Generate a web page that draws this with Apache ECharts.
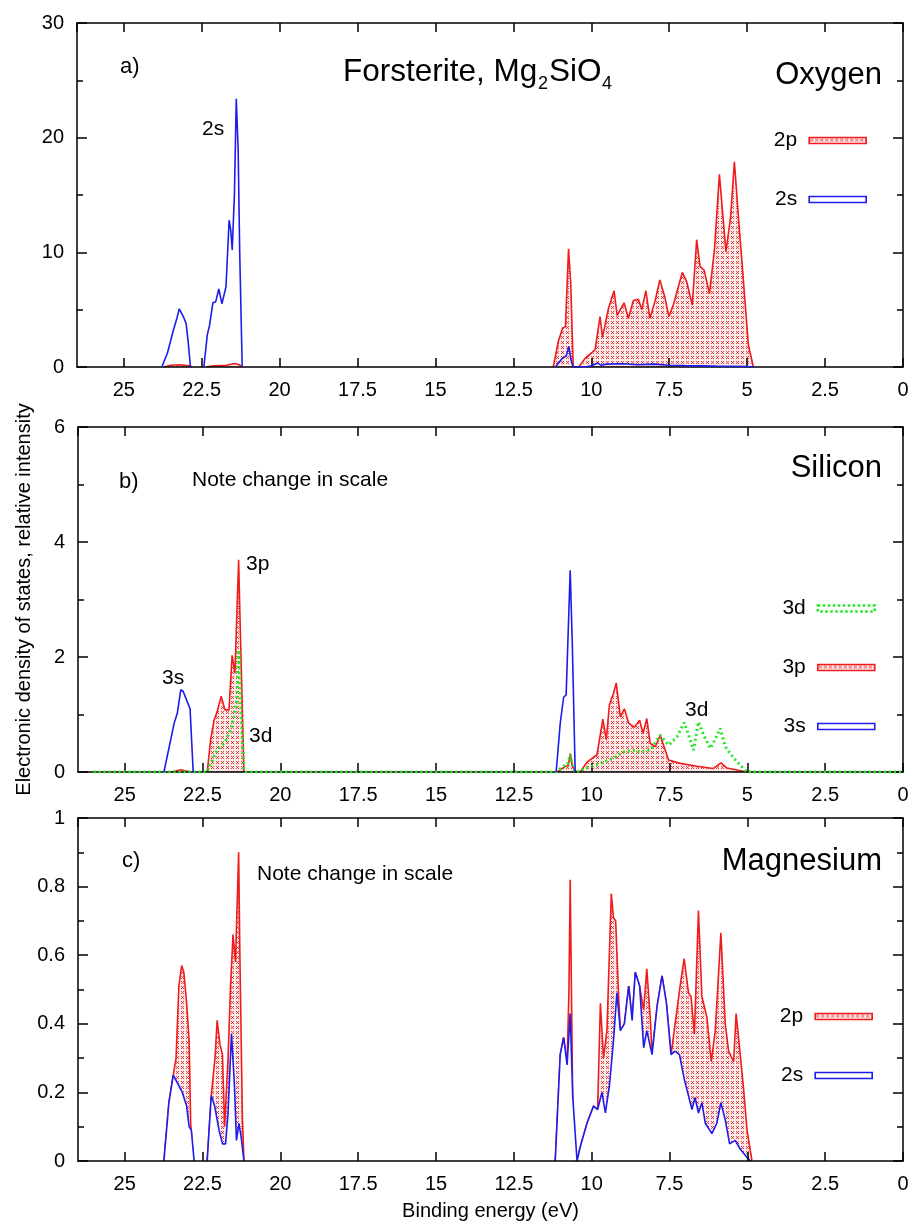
<!DOCTYPE html>
<html>
<head>
<meta charset="utf-8">
<script src="https://cdn.jsdelivr.net/npm/echarts@6/dist/echarts.min.js"></script>
<style>
html,body{margin:0;padding:0;background:#fff}
#chart{width:912px;height:1222px}
</style>
</head>
<body>
<div id="chart"></div>
<script>
var FONT = '"Liberation Sans", Arial, Helvetica, sans-serif';
var RED = '#ee1c1c', BLUE = '#1c1cee', GREEN = '#22e622';

// binding energy (eV), intensity ; [x,'-'] breaks the curve
// a) Oxygen
var o2s = [[23.78,0],[23.6,1.2],[23.42,3.1],[23.3,4.2],[23.22,5.06],[23.09,4.4],[23.0,3.8],[22.93,2.1],[22.86,0],[22.6,'-'],
  [22.43,0],[22.32,2.8],[22.25,3.6],[22.14,5.6],[22.05,5.7],[21.95,6.8],[21.85,5.5],[21.72,7.0],[21.62,12.8],[21.57,12.0],
  [21.52,10.2],[21.45,15],[21.39,23.4],[21.33,19],[21.28,10],[21.2,0],[15,'-'],
  [11.15,0],[10.95,0.7],[10.8,1.0],[10.72,1.8],[10.65,0.6],[10.58,0],[10.2,0],[10.0,0.1],[9.78,0.35],[9.7,0.15],
  [9.5,0.25],[9.0,0.28],[8.5,0.2],[8.0,0.25],[7.5,0.15],[7.0,0.12],[6.0,0.08],[5.0,0.05],[4.8,0]];
var o2p = [[23.7,0],[23.5,0.15],[23.2,0.2],[22.9,0.1],[22.8,0],[22.6,'-'],
  [22.35,0],[22.1,0.1],[21.7,0.15],[21.45,0.3],[21.3,0.2],[21.2,0],[15,'-'],
  [11.22,0],[11.06,2.2],[10.92,3.4],[10.83,3.5],[10.73,10.3],[10.66,7.3],[10.58,0],[10.4,0],[10.2,0.75],[9.88,1.5],
  [9.72,4.4],[9.64,2.6],[9.45,5.1],[9.27,6.65],[9.17,4.5],[8.95,5.6],[8.81,4.25],[8.65,5.8],[8.49,5.9],[8.38,5.0],
  [8.25,6.65],[8.12,4.25],[7.96,5.7],[7.8,7.6],[7.64,6.1],[7.51,4.4],[7.37,5.4],[7.08,8.25],[6.94,7.45],[6.88,7.5],
  [6.76,5.4],[6.62,11.1],[6.51,8.75],[6.38,8.45],[6.21,6.4],[6.05,10.2],[5.89,16.8],[5.68,10.05],[5.53,13.1],
  [5.41,17.9],[5.25,12.0],[5.17,9.3],[4.96,1.9],[4.8,0]];

// b) Silicon
var si3s = [[23.74,0],[23.41,0.85],[23.31,1.02],[23.2,1.43],[23.12,1.4],[22.99,1.22],[22.9,1.1],[22.8,0],[15,'-'],
  [11.14,0],[11.01,0.85],[10.9,1.3],[10.82,1.34],[10.69,3.51],[10.62,2.18],[10.53,0]];
var si3p = [[23.5,0],[23.2,0.04],[22.9,0],[22.6,'-'],
  [22.35,0],[22.24,0.56],[22.13,0.9],[22.03,1.05],[21.9,1.32],[21.78,1.08],[21.65,1.08],[21.55,2.03],[21.46,1.72],
  [21.34,3.69],[21.3,2.76],[21.17,0],[15,'-'],
  [11.1,0],[10.9,0.08],[10.75,0.12],[10.69,0.32],[10.62,0.1],[10.5,0],[10.37,0],[10.15,0.17],[9.83,0.3],[9.64,0.92],
  [9.53,0.56],[9.43,1.17],[9.3,1.37],[9.21,1.55],[9.08,0.96],[8.95,1.1],[8.81,0.85],[8.63,0.78],[8.46,0.9],[8.35,0.67],
  [8.23,0.93],[8.12,0.5],[7.96,0.44],[7.8,0.64],[7.53,0.21],[7.16,0.15],[6.62,0.1],[6.1,0.06],[5.85,0.16],[5.66,0.07],[5.01,0]];
var si3d = [[26.0,0],[22.35,0],[22.29,0.09],[22.03,0.38],[21.76,0.53],[21.6,0.73],[21.49,0.96],[21.41,1.22],[21.36,1.72],
  [21.33,2.12],[21.28,1.2],[21.17,0.03],[21.1,0],[11.15,0],[10.9,0.1],[10.78,0.12],[10.69,0.3],[10.6,0.05],[10.5,0],
  [10.05,0.09],[9.62,0.17],[9.3,0.24],[8.98,0.35],[8.66,0.38],[8.44,0.35],[8.12,0.38],[7.8,0.64],[7.53,0.47],[7.26,0.61],
  [7.03,0.86],[6.89,0.65],[6.73,0.38],[6.57,0.87],[6.41,0.65],[6.19,0.41],[6.08,0.52],[5.87,0.76],[5.71,0.44],[5.44,0.24],
  [5.12,0.06],[5.01,0],[0,0]];

// c) Magnesium
var mg2s = [[23.74,0],[23.58,0.17],[23.44,0.25],[23.26,0.22],[23.15,0.2],[23.01,0.16],[22.93,0.1],[22.86,0.09],[22.77,0],[22.6,'-'],
  [22.35,0],[22.22,0.19],[22.11,0.16],[21.97,0.09],[21.86,0.05],[21.76,0.05],[21.68,0.14],[21.57,0.37],[21.48,0.23],
  [21.41,0.06],[21.33,0.11],[21.26,0.07],[21.17,0],[15,'-'],
  [11.17,0],[11.01,0.31],[10.9,0.36],[10.79,0.28],[10.69,0.43],[10.61,0.19],[10.47,0],[10.37,0.04],[10.15,0.11],
  [9.94,0.16],[9.81,0.15],[9.67,0.2],[9.56,0.14],[9.43,0.22],[9.3,0.35],[9.19,0.49],[9.08,0.38],[8.95,0.4],[8.81,0.51],
  [8.7,0.41],[8.6,0.55],[8.46,0.51],[8.33,0.33],[8.23,0.38],[8.06,0.31],[7.9,0.45],[7.74,0.54],[7.6,0.46],[7.45,0.31],
  [7.32,0.32],[7.18,0.31],[7.03,0.24],[6.89,0.19],[6.78,0.15],[6.68,0.185],[6.57,0.14],[6.46,0.17],[6.35,0.11],
  [6.14,0.08],[5.98,0.11],[5.85,0.17],[5.71,0.12],[5.57,0.05],[5.39,0.06],[5.23,0.035],[5.01,0.01],[4.9,0]];
var mg2p = [[23.74,0],[23.58,0.17],[23.44,0.25],[23.35,0.3],[23.26,0.51],[23.17,0.57],[23.1,0.55],[23.01,0.46],[22.93,0.35],
  [22.88,0.11],[22.79,0],[22.6,'-'],
  [22.35,0],[22.22,0.19],[22.1,0.3],[22.03,0.41],[21.94,0.34],[21.86,0.31],[21.79,0.1],[21.68,0.3],[21.6,0.51],[21.52,0.66],
  [21.44,0.58],[21.34,0.9],[21.3,0.6],[21.22,0.13],[21.17,0],[15,'-'],
  [11.17,0],[11.01,0.31],[10.9,0.36],[10.79,0.28],[10.73,0.5],[10.69,0.82],[10.65,0.5],[10.6,0.1],[10.55,0],[10.47,0],
  [10.37,0.04],[10.15,0.11],[9.94,0.16],[9.81,0.15],[9.72,0.46],[9.62,0.3],[9.51,0.38],[9.37,0.78],[9.3,0.71],[9.23,0.7],
  [9.14,0.49],[9.08,0.38],[8.95,0.4],[8.81,0.51],[8.7,0.41],[8.6,0.55],[8.46,0.51],[8.33,0.44],[8.23,0.56],[8.12,0.42],
  [8.06,0.31],[7.9,0.45],[7.74,0.54],[7.6,0.46],[7.45,0.31],[7.32,0.4],[7.16,0.51],[7.03,0.59],[6.89,0.49],[6.81,0.48],
  [6.7,0.37],[6.57,0.73],[6.46,0.48],[6.3,0.42],[6.16,0.29],[6.03,0.38],[5.85,0.665],[5.71,0.4],[5.6,0.32],[5.44,0.29],
  [5.36,0.43],[5.25,0.33],[5.12,0.21],[5.01,0.09],[4.85,0]];

var yMax = [30, 6, 1];
var yStep = [10, 2, 0.2];

// crosshatch fill like gnuplot pattern
function makePattern(){
    var c = document.createElement('canvas');
    c.width = 5; c.height = 5;
    var ctx = c.getContext('2d');
    ctx.fillStyle = '#ffeaea';
    ctx.fillRect(0, 0, 5, 5);
    ctx.strokeStyle = 'rgba(230,30,30,0.95)';
    ctx.lineWidth = 0.9;
    ctx.beginPath();
    ctx.moveTo(1, 1); ctx.lineTo(4, 4);
    ctx.moveTo(4, 1); ctx.lineTo(1, 4);
    ctx.stroke();
    return c;
}
var pattern = {image: makePattern(), repeat: 'repeat'};

var axLine = {color: '#000', width: 1.5};

function xAx(g, pos){
    var ax = {
        type: 'value', gridIndex: g, position: pos, inverse: true,
        min: 0, max: 26.5, interval: 2.5, z: 2,
        axisLine: {show: true, onZero: false, lineStyle: axLine},
        axisTick: {show: true, inside: true, length: 9, lineStyle: axLine},
        axisLabel: {show: pos === 'bottom', margin: 13, fontSize: 20, color: '#000', fontFamily: FONT, showMaxLabel: false},
        splitLine: {show: false}
    };
    if (g === 2 && pos === 'bottom') {
        ax.name = 'Binding energy (eV)';
        ax.nameLocation = 'middle';
        ax.nameGap = 40;
        ax.nameTextStyle = {fontSize: 20, color: '#000', fontFamily: FONT};
    }
    return ax;
}

function yAx(g, pos){
    var ax = {
        type: 'value', gridIndex: g, position: pos, min: 0, max: yMax[g], interval: yStep[g], z: 2,
        axisLine: {show: true, onZero: false, lineStyle: axLine},
        axisTick: {show: true, inside: true, length: 10, lineStyle: axLine},
        minorTick: {show: true, splitNumber: 2, length: 6, lineStyle: axLine},
        axisLabel: {show: pos === 'left', margin: 13, fontSize: 20, color: '#000', fontFamily: FONT},
        splitLine: {show: false},
        minorSplitLine: {show: false}
    };
    if (g === 1 && pos === 'left') {
        ax.name = 'Electronic density of states, relative intensity';
        ax.nameLocation = 'middle';
        ax.nameGap = 44;
        ax.nameTextStyle = {fontSize: 20, color: '#000', fontFamily: FONT};
    }
    return ax;
}

function curve(name, g, data, color, z, extra){
    var s = {
        name: name, type: 'line', xAxisIndex: g * 2, yAxisIndex: g * 2,
        data: data, showSymbol: false, symbol: 'none', z: z,
        connectNulls: false, animation: false,
        lineStyle: {color: color, width: 1.6},
        itemStyle: {color: color}
    };
    for (var k in extra) s[k] = extra[k];
    return s;
}

function legendOf(names, styles, right, top){
    return {
        orient: 'vertical', right: right, top: top, align: 'right',
        itemWidth: 57, itemHeight: 6, itemGap: 38, selectedMode: false,
        textStyle: {fontSize: 21, color: '#000', fontFamily: FONT, padding: [0, 7, 0, 0]},
        data: names.map(function(n, i){ return {name: n, icon: 'rect', itemStyle: styles[i]}; })
    };
}

function txt(str, x, y, size, align){
    return {type: 'text', left: align === 'right' ? null : x, right: align === 'right' ? 912 - x : null,
        top: y - size / 2 - 1, z: 10,
        style: {text: str, fontSize: size, fontFamily: FONT, fill: '#000'}};
}

var sRed = {color: pattern, borderColor: RED, borderWidth: 1.6};
var sBlue = {color: '#fff', borderColor: BLUE, borderWidth: 1.6};
var sGreen = {color: 'rgba(0,0,0,0)', borderColor: GREEN, borderWidth: 2.5, borderType: 'dotted'};

var chart = echarts.init(document.getElementById('chart'), null, {renderer: 'canvas'});
chart.setOption({
    backgroundColor: '#fff',
    animation: false,
    grid: [
        {left: 77, top: 23, width: 826, height: 344},
        {left: 78, top: 427, width: 825, height: 345},
        {left: 78, top: 818, width: 825, height: 344}
    ],
    xAxis: [xAx(0,'bottom'), xAx(0,'top'), xAx(1,'bottom'), xAx(1,'top'), xAx(2,'bottom'), xAx(2,'top')],
    yAxis: [yAx(0,'left'), yAx(0,'right'), yAx(1,'left'), yAx(1,'right'), yAx(2,'left'), yAx(2,'right')],
    legend: [
        legendOf(['2p','2s'], [sRed, sBlue], 40, 125),
        legendOf(['3d','3p','3s'], [sGreen, sRed, sBlue], 31, 593),
        legendOf(['2p','2s'], [sRed, sBlue], 34, 1001)
    ],
    series: [
        curve('2p', 0, o2p, RED, 1, {areaStyle: {color: pattern, opacity: 1}}),
        curve('2s', 0, o2s, BLUE, 3),
        curve('3p', 1, si3p, RED, 1, {areaStyle: {color: pattern, opacity: 1}}),
        curve('3d', 1, si3d, GREEN, 3, {lineStyle: {color: GREEN, width: 3, type: [2, 3]}}),
        curve('3s', 1, si3s, BLUE, 3),
        curve('2p', 2, mg2p, RED, 1, {areaStyle: {color: pattern, opacity: 1}}),
        curve('2s', 2, mg2s, BLUE, 1.5, {areaStyle: {color: '#fff', opacity: 1}})
    ],
    graphic: [
        txt('a)', 120, 68, 22),
        {type: 'text', left: 343, top: 56, z: 10, style: {text: 'Forsterite, Mg', fontSize: 31.5, fontFamily: FONT, fill: '#000'}},
        {type: 'text', left: 538, top: 75, z: 10, style: {text: '2', fontSize: 18, fontFamily: FONT, fill: '#000'}},
        {type: 'text', left: 549, top: 56, z: 10, style: {text: 'SiO', fontSize: 31.5, fontFamily: FONT, fill: '#000'}},
        {type: 'text', left: 602, top: 75, z: 10, style: {text: '4', fontSize: 18, fontFamily: FONT, fill: '#000'}},
        txt('Oxygen', 882, 76, 31, 'right'),
        txt('2s', 202, 130, 21),
        txt('b)', 119, 483, 22),
        txt('Note change in scale', 192, 481, 21),
        txt('Silicon', 882, 469, 31, 'right'),
        txt('3p', 246, 565, 21),
        txt('3s', 162, 679, 21),
        txt('3d', 249, 737, 21),
        txt('3d', 685, 711, 21),
        txt('c)', 122, 862, 22),
        txt('Note change in scale', 257, 875, 21),
        txt('Magnesium', 882, 862, 31, 'right')
    ]
});
</script>
</body>
</html>
